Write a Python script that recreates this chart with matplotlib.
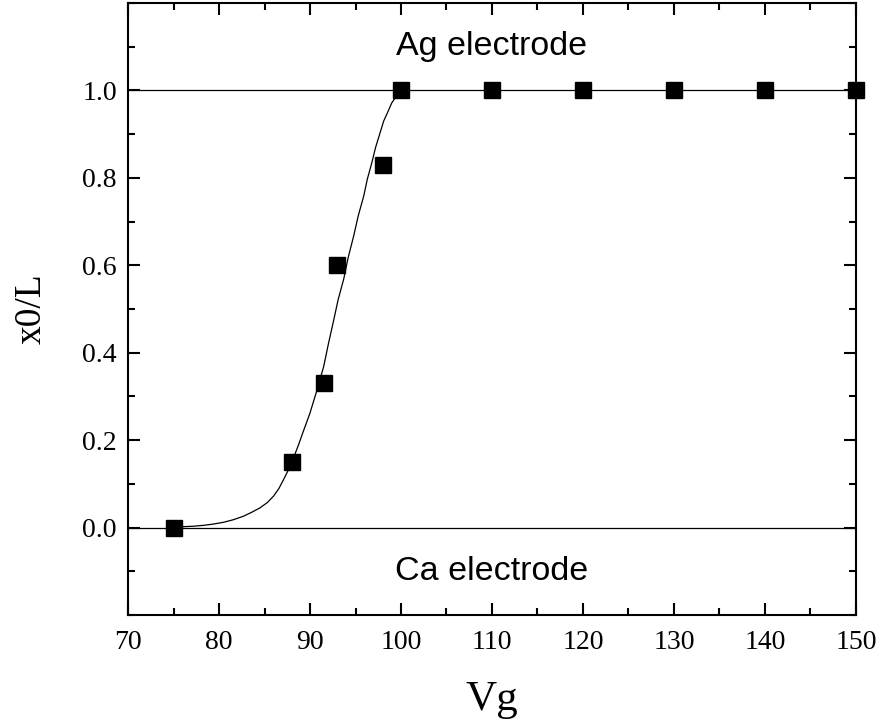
import numpy as np
import matplotlib
matplotlib.use('Agg')
import matplotlib.pyplot as plt
from matplotlib.ticker import MultipleLocator

# measured points
vg = [75, 88, 91.5, 93, 98, 100, 110, 120, 130, 140, 150]
x0_L = [0.0, 0.15, 0.33, 0.60, 0.83, 1.0, 1.0, 1.0, 1.0, 1.0, 1.0]

# fitted curve
vg_fit = [75.5, 76.1, 77.2, 78.3, 79.4, 80.5, 81.6, 82.7, 83.6, 84.5, 85.3, 86.0, 86.6,
          87.1, 87.7, 88.2, 88.7, 89.3, 90.0, 90.7, 91.5, 92.0, 92.6, 93.1, 93.7,
          94.2, 94.8, 95.3, 95.9, 96.3, 96.8, 97.2, 97.7, 98.1, 98.6, 99.0, 99.5, 99.9]
x0_fit = [0.0, 0.002, 0.003, 0.005, 0.008, 0.012, 0.018, 0.026, 0.035, 0.045, 0.057, 0.072,
          0.09, 0.11, 0.135, 0.16, 0.187, 0.222, 0.262, 0.31, 0.368, 0.418, 0.474, 0.522,
          0.568, 0.618, 0.667, 0.713, 0.758, 0.797, 0.835, 0.869, 0.903, 0.93, 0.953,
          0.972, 0.987, 1.0]

# electrode levels
vg_range = [70, 150]
lvl_ca = [0.0, 0.0]
lvl_ag = [1.0, 1.0]

fig = plt.figure(figsize=(8.81, 7.24), dpi=100)
ax = fig.add_axes([0.1453, 0.1506, 0.8263, 0.8453])

ax.plot(vg_range, lvl_ag, color='black', lw=0.9)
ax.plot(vg_range, lvl_ca, color='black', lw=0.9)
ax.plot(vg_fit, x0_fit, color='black', lw=0.9)
ax.plot(vg, x0_L, 's', color='black', markersize=11, clip_on=False, zorder=5)

ax.text(110, 1.1, 'Ag electrode', family='Liberation Sans', fontsize=24.5,
        ha='center', va='center')
ax.text(110, -0.1, 'Ca electrode', family='Liberation Sans', fontsize=24.5,
        ha='center', va='center')

ax.set_xlim(70, 150)
ax.set_ylim(-0.2, 1.2)
ax.set_xticks(np.arange(70, 151, 10))
ax.set_yticks([0.0, 0.2, 0.4, 0.6, 0.8, 1.0])
ax.set_yticklabels(['0.0', '0.2', '0.4', '0.6', '0.8', '1.0'])
ax.xaxis.set_minor_locator(MultipleLocator(5))
ax.yaxis.set_minor_locator(MultipleLocator(0.1))

ax.tick_params(which='both', direction='in', top=True, right=True, width=1.5)
ax.tick_params(which='major', length=8.5, pad=8, labelsize=20)
ax.tick_params(axis='x', which='major', pad=11)
ax.tick_params(which='minor', length=5)
for lab in ax.get_xticklabels() + ax.get_yticklabels():
    lab.set_family('Liberation Serif')
for sp in ax.spines.values():
    sp.set_linewidth(1.5)

ax.set_xlabel('Vg', family='Liberation Serif', fontsize=31, labelpad=18)
ax.set_ylabel('x0/L', family='Liberation Serif', fontsize=27, labelpad=24)

fig.savefig('out.png', dpi=100)
